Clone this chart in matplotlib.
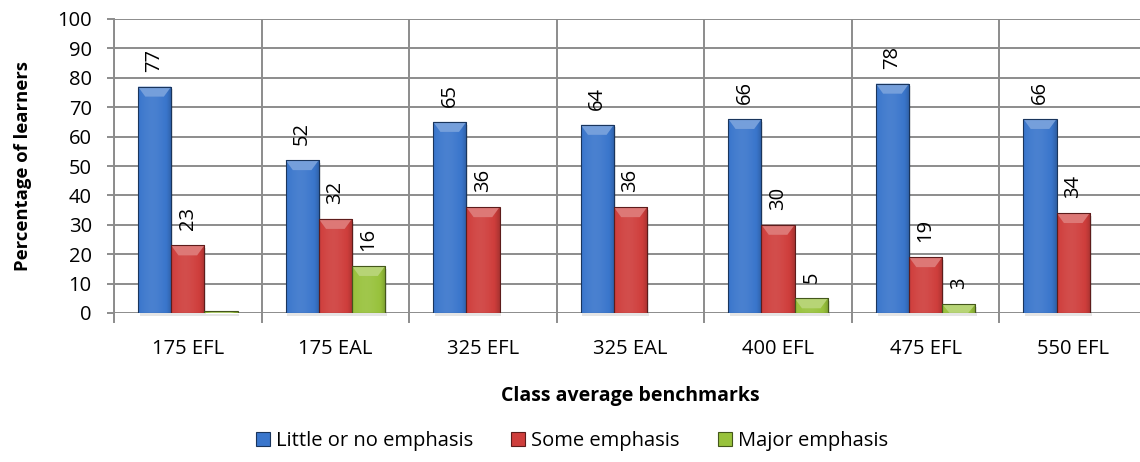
import matplotlib.pyplot as plt
from matplotlib.patches import Rectangle, Polygon
import matplotlib.colors as mcolors
import numpy as np

categories = ["175 EFL", "175 EAL", "325 EFL", "325 EAL", "400 EFL", "475 EFL", "550 EFL"]
little = [77, 52, 65, 64, 66, 78, 66]
some = [23, 32, 36, 36, 30, 19, 34]
major = [0.6, 16, 0, 0, 5, 3, 0]
major_labels = ["", "16", "", "", "5", "3", ""]

series = [
    ("Little or no emphasis", little, [str(v) for v in little], "#3a76cc"),
    ("Some emphasis", some, [str(v) for v in some], "#cf3e3c"),
    ("Major emphasis", major, major_labels, "#98c23c"),
]

plt.rcParams['font.family'] = ['Open Sans', 'DejaVu Sans']
FS = 14.5

W, H = 1140, 462
fig = plt.figure(figsize=(W / 100, H / 100), dpi=100)
ax = fig.add_axes([114 / W, 1 - 313 / H, (1147 - 114) / W, (313 - 19) / H])

ax.set_xlim(0, len(categories))
ax.set_ylim(0, 100)

# grid: horizontal every 10, vertical at category borders
for y in range(10, 101, 10):
    ax.axhline(y, color="#8c8c8c", lw=1.4, zorder=0)
for x in range(0, len(categories) + 1):
    ax.axvline(x, color="#8c8c8c", lw=1.4, zorder=0)

bw = 0.225


def shade(c, f):
    r, g, b = mcolors.to_rgb(c)
    if f < 0:
        return (r * (1 + f), g * (1 + f), b * (1 + f))
    return (r + (1 - r) * f, g + (1 - g) * f, b + (1 - b) * f)


def draw_bar(x0, h, color):
    if h <= 0:
        return
    edge = shade(color, -0.55)
    # soft shadow at the foot of the bar
    ax.add_patch(Rectangle((x0 + 0.012, -0.9), bw, h, facecolor="black", alpha=0.1,
                           edgecolor="none", zorder=2, clip_on=False))
    rect = Rectangle((x0, 0), bw, h, facecolor=color, edgecolor="none", zorder=3)
    ax.add_patch(rect)
    # horizontal shading across the bar face
    t = np.linspace(0, 1, 60)
    prof = 0.08 - 0.35 * np.abs(t - 0.42) ** 1.6
    prof[t > 0.85] -= 0.12 * (t[t > 0.85] - 0.85) / 0.15
    cols = np.array([shade(color, p) for p in prof])
    img = ax.imshow(cols[np.newaxis, :, :], extent=(x0, x0 + bw, 0, h), aspect="auto",
                    zorder=3.5, interpolation="bilinear")
    img.set_clip_path(rect)
    # bevelled top
    bh = min(3.4, h)
    inset = bw * 0.22
    ax.add_patch(Polygon([(x0, h), (x0 + bw, h), (x0 + bw - inset, h - bh), (x0 + inset, h - bh)],
                         closed=True, facecolor=shade(color, 0.3), edgecolor="none", zorder=4.5))
    ax.add_patch(Rectangle((x0, 0), bw, h, facecolor="none", edgecolor=edge,
                           lw=0.8, zorder=5))


for i, (name, vals, labs, color) in enumerate(series):
    for j, v in enumerate(vals):
        x0 = j + 0.5 - 1.5 * bw + i * bw
        draw_bar(x0, v, color)
        if labs[j]:
            ax.annotate(labs[j], (x0 + bw / 2, v), xytext=(0, 15), textcoords="offset pixels",
                        rotation=90, ha="center", va="bottom", fontsize=FS, color="black",
                        zorder=6)

ax.set_yticks(range(0, 101, 10))
ax.set_xticks([i + 0.5 for i in range(len(categories))])
ax.set_xticklabels(categories)
ax.tick_params(axis="y", length=5, width=1.4, color="#8c8c8c", labelsize=FS, pad=11)
ax.tick_params(axis="x", length=0, labelsize=FS, pad=19)
# small tick marks below the axis at category borders
for x in range(0, len(categories) + 1):
    ax.plot([x, x], [0, -2.9], color="#8c8c8c", lw=1.4, clip_on=False, zorder=1)

for s in ["top", "right", "bottom"]:
    ax.spines[s].set_visible(False)
ax.spines["left"].set_color("#8c8c8c")
ax.spines["left"].set_linewidth(1.4)
ax.axhline(0, color="#8c8c8c", lw=1.4, zorder=1)

ax.set_ylabel("Percentage of learners", fontsize=13.3, fontweight="bold", labelpad=18)
fig.text(630 / W, 1 - 396 / H, "Class average benchmarks", ha="center", va="center",
         fontsize=14, fontweight="bold")

handles = [Rectangle((0, 0), 1, 1, facecolor=c, edgecolor=shade(c, -0.55), lw=0.8)
           for _, _, _, c in series]
fig.legend(handles, [s[0] for s in series], loc="center", bbox_to_anchor=(572 / W, 1 - 441 / H),
           ncol=3, frameon=False, fontsize=FS, handlelength=0.7, handleheight=0.7,
           handletextpad=0.3, columnspacing=1.9)

fig.savefig("out.png", dpi=100)
